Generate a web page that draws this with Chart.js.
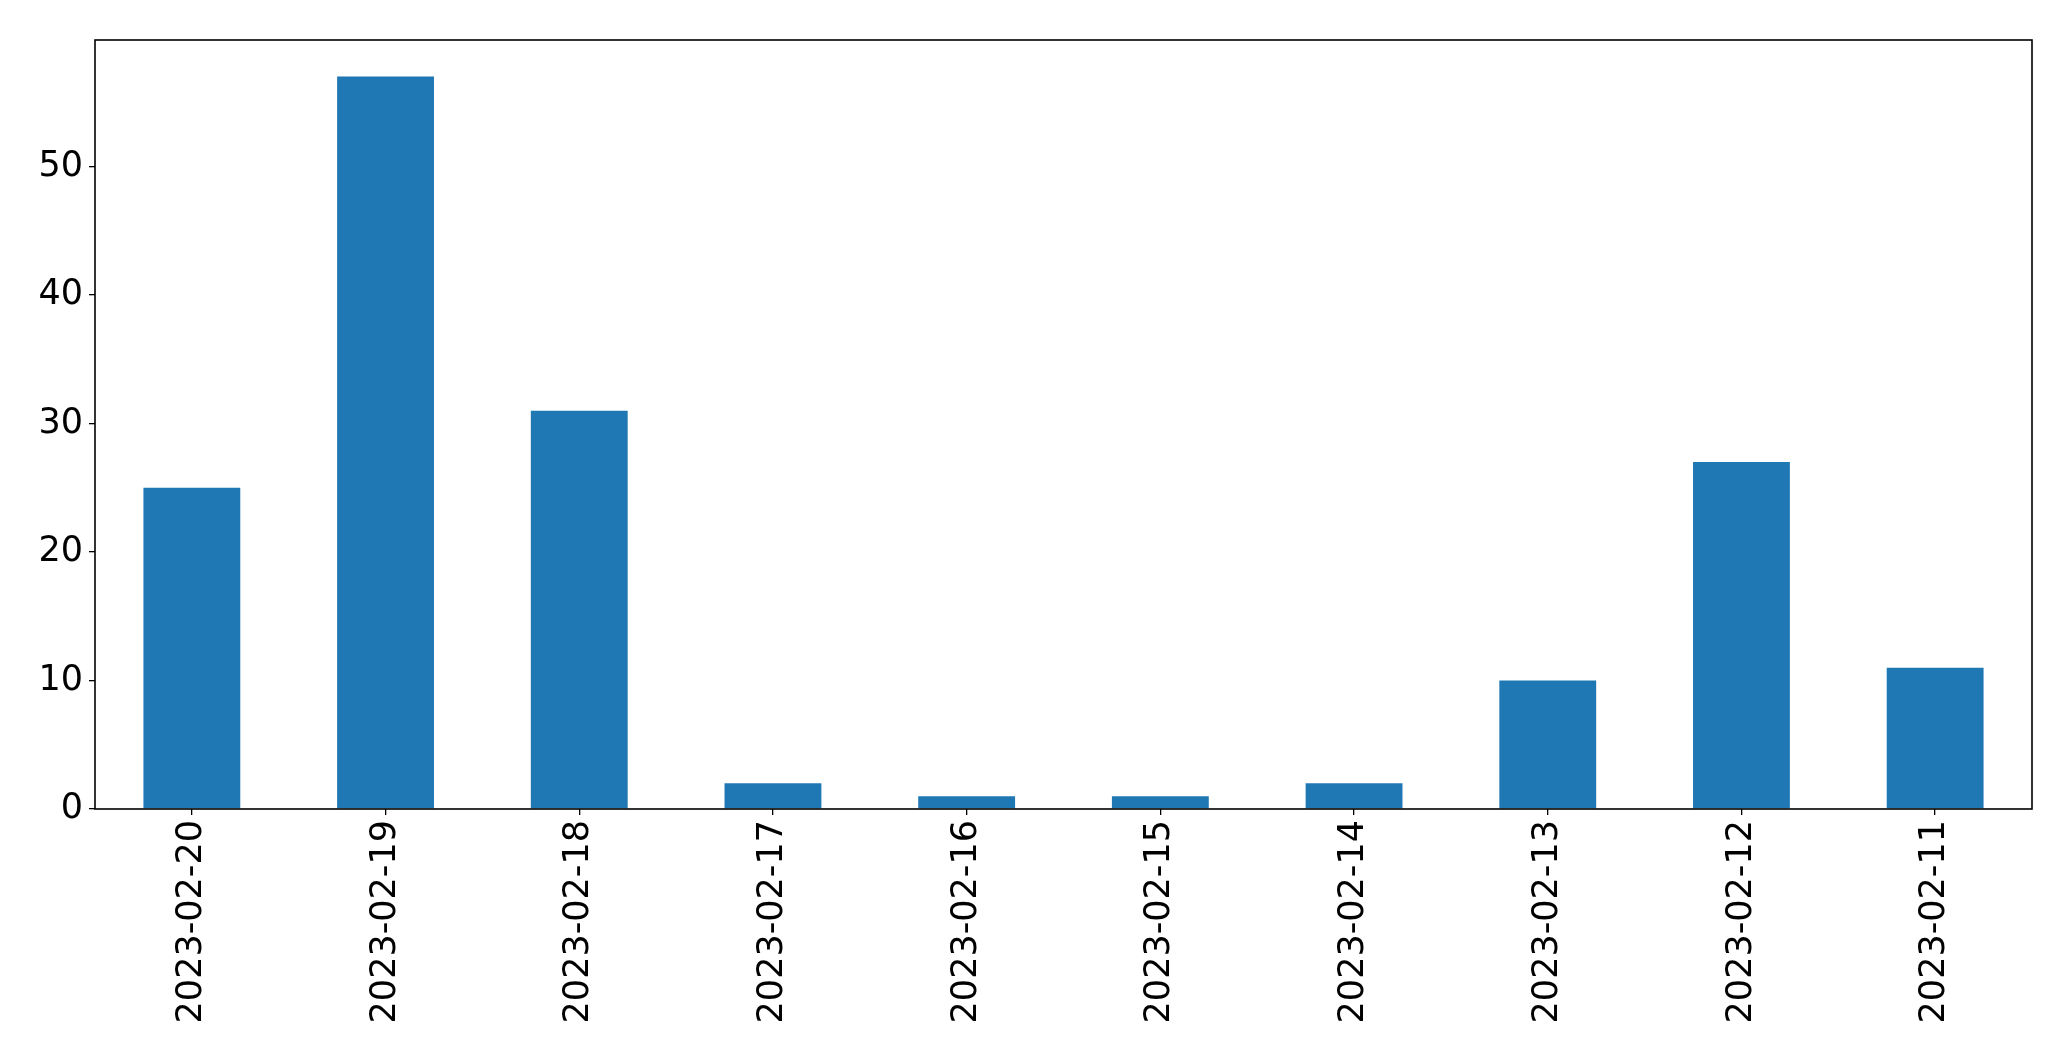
<!DOCTYPE html>
<html>
<head>
<meta charset="utf-8">
<script src="https://cdn.jsdelivr.net/npm/chart.js@4"></script>
<style>
  html, body { margin: 0; padding: 0; background: #fff; }
  #wrap { width: 2071px; height: 1061px; }
</style>
</head>
<body>
<div id="wrap"><canvas id="chart" width="2071" height="1061"></canvas></div>
<script>
const dates = ["2023-02-20", "2023-02-19", "2023-02-18", "2023-02-17", "2023-02-16",
               "2023-02-15", "2023-02-14", "2023-02-13", "2023-02-12", "2023-02-11"];
const counts = [25, 57, 31, 2, 1, 1, 2, 10, 27, 11];
const yTicks = [0, 10, 20, 30, 40, 50];

// matplotlib leaves 5% headroom above the tallest bar
const yMax = Math.max(...counts) * 1.05;

const frame = {
    id: "frame",
    afterDatasetsDraw(chart) {
        const a = chart.chartArea;
        const ctx = chart.ctx;
        ctx.save();
        ctx.strokeStyle = "#000";
        ctx.lineWidth = 1.6;
        ctx.strokeRect(a.left, a.top, a.right - a.left, a.bottom - a.top);
        ctx.restore();
    }
};

const ctx = document.getElementById("chart").getContext("2d");
new Chart(ctx, {
    type: "bar",
    data: {
        labels: dates,
        datasets: [{
            data: counts,
            backgroundColor: "#1f77b4",
            borderWidth: 0,
            categoryPercentage: 1.0,
            barPercentage: 0.5
        }]
    },
    options: {
        responsive: false,
        animation: false,
        layout: { padding: { left: 0, right: 39, top: 40, bottom: 0 } },
        plugins: { legend: { display: false }, tooltip: { enabled: false } },
        scales: {
            x: {
                offset: true,
                grid: { drawOnChartArea: false, drawTicks: true, tickLength: 6, color: "#000", lineWidth: 1.3, offset: false },
                border: { display: false },
                ticks: {
                    color: "#000",
                    font: { family: "DejaVu Sans", size: 35 },
                    minRotation: 90,
                    maxRotation: 90,
                    autoSkip: false,
                    padding: 5
                },
                afterFit(scale) { scale.height = 252; }
            },
            y: {
                min: 0,
                max: yMax,
                grid: { drawOnChartArea: false, drawTicks: true, tickLength: 6, color: "#000", lineWidth: 1.3 },
                border: { display: false },
                ticks: {
                    color: "#000",
                    font: { family: "DejaVu Sans", size: 35 },
                    stepSize: 10,
                    padding: 6
                },
                afterBuildTicks(scale) {
                    scale.ticks = yTicks.map(v => ({ value: v }));
                },
                afterFit(scale) { scale.width = 95; }
            }
        }
    },
    plugins: [frame]
});
</script>
</body>
</html>
